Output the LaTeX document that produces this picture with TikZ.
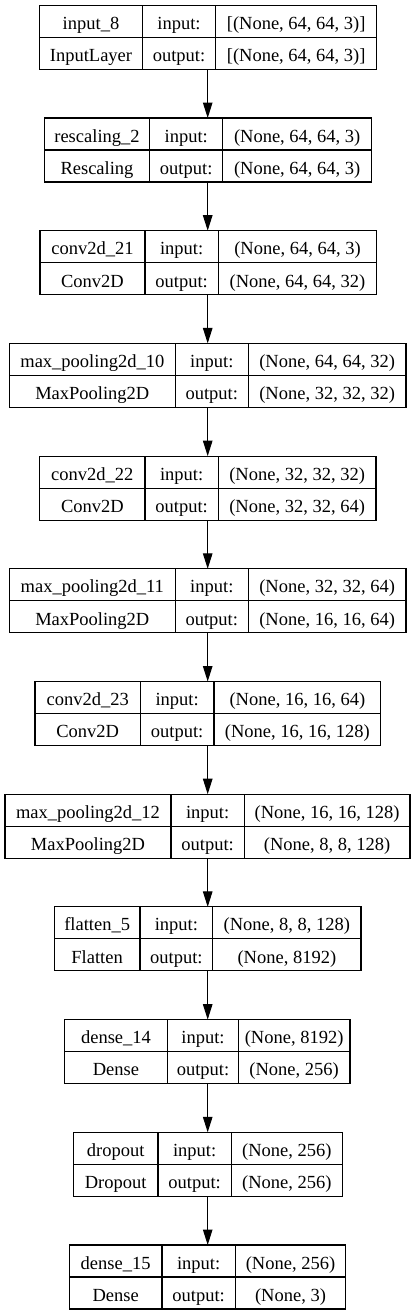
\documentclass[tikz,border=0pt]{standalone}
\usepackage{fontspec}
\setmainfont{Liberation Serif}
\usetikzlibrary{arrows.meta}
\tikzset{
  lbox/.style={draw, line width=1.1pt, rectangle, inner sep=0pt, outer sep=0pt, minimum height=64pt, anchor=north west},
  cell/.style={inner sep=0pt, anchor=base, font=\fontsize{18.5pt}{22pt}\selectfont},
  grid/.style={line width=1.1pt},
  flow/.style={line width=1.1pt, -{Triangle[length=15.5pt,width=9.5pt]}},
}
\newcommand\layer[9]{%
  \pgfmathsetmacro\T{5.3+112.7*#1}%
  \pgfmathsetmacro\W{#5-#2}%
  \node[lbox, minimum width=\W pt] (L#1) at (#2,\T) {};
  \draw[grid] (L#1.west) -- (L#1.east);
  \draw[grid] (#3,\T) -- (#3,\T+64);
  \draw[grid] (#4,\T) -- (#4,\T+64);
  \node[cell] (L#1a) at ({(#2+#3)/2},\T+24) {#6};
  \node[cell] (L#1b) at ({(#2+#3)/2},\T+56.3) {#7};
  \node[cell] (L#1c) at ({(#3+#4)/2},\T+24) {input:};
  \node[cell] (L#1d) at ({(#3+#4)/2},\T+56.3) {output:};
  \node[cell] (L#1e) at ({(#4+#5)/2},\T+24) {#8};
  \node[cell] (L#1f) at ({(#4+#5)/2},\T+56.3) {#9};
}
\begin{document}
\begin{tikzpicture}[x=1pt,y=-1pt]
\fill[white] (0,0) rectangle (416,1315);
\useasboundingbox (0,0) rectangle (416,1315);
\coordinate (A) at (207.7,0);
\layer{0}{39.7}{142.3}{215.7}{376.7}{input\_8}{InputLayer}{[(None, 64, 64, 3)]}{[(None, 64, 64, 3)]}
\layer{1}{44.3}{149.7}{222.7}{371.7}{rescaling\_2}{Rescaling}{(None, 64, 64, 3)}{(None, 64, 64, 3)}
\layer{2}{40}{145}{218.3}{376.7}{conv2d\_21}{Conv2D}{(None, 64, 64, 3)}{(None, 64, 64, 32)}
\layer{3}{9.3}{175.3}{248.3}{406}{max\_pooling2d\_10}{MaxPooling2D}{(None, 64, 64, 32)}{(None, 32, 32, 32)}
\layer{4}{39.7}{145}{218.3}{376}{conv2d\_22}{Conv2D}{(None, 32, 32, 32)}{(None, 32, 32, 64)}
\layer{5}{9.3}{175.3}{248.3}{406}{max\_pooling2d\_11}{MaxPooling2D}{(None, 32, 32, 64)}{(None, 16, 16, 64)}
\layer{6}{35}{140.3}{214}{380.7}{conv2d\_23}{Conv2D}{(None, 16, 16, 64)}{(None, 16, 16, 128)}
\layer{7}{5}{171}{244.3}{410}{max\_pooling2d\_12}{MaxPooling2D}{(None, 16, 16, 128)}{(None, 8, 8, 128)}
\layer{8}{54.3}{140}{212.7}{361}{flatten\_5}{Flatten}{(None, 8, 8, 128)}{(None, 8192)}
\layer{9}{64.3}{167.7}{238.3}{350}{dense\_14}{Dense}{(None, 8192)}{(None, 256)}
\layer{10}{73.3}{158}{231.3}{342.3}{dropout}{Dropout}{(None, 256)}{(None, 256)}
\layer{11}{69.3}{162}{235.3}{345.7}{dense\_15}{Dense}{(None, 256)}{(None, 3)}
\foreach \i [evaluate=\i as \j using int(\i+1)] in {0,...,10} {
  \draw[flow] (L\i.south -| A) -- (L\j.north -| A);
}
\end{tikzpicture}
\end{document}
